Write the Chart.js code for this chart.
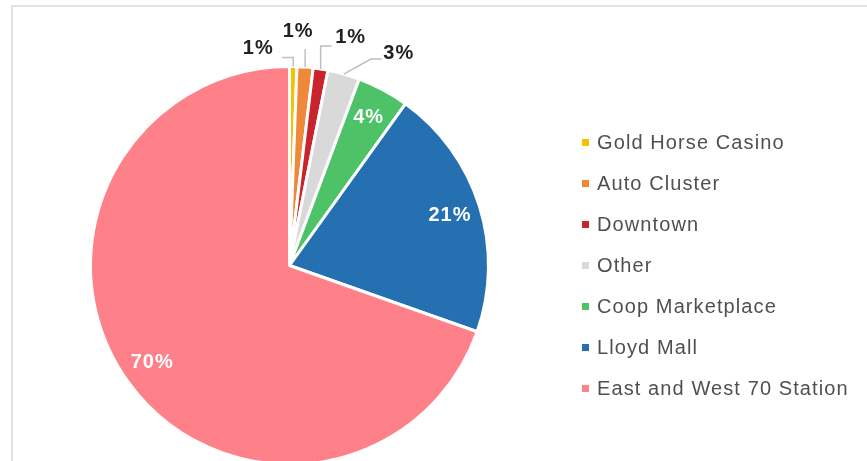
<!DOCTYPE html>
<html>
<head>
<meta charset="utf-8">
<script src="https://cdn.jsdelivr.net/npm/chart.js@4.4.1/dist/chart.umd.min.js"></script>
<style>
  html, body { margin: 0; padding: 0; width: 867px; height: 461px; overflow: hidden; background: #fff; }
  #frame { position: absolute; left: 11px; top: 5px; right: 0; bottom: 0; border-top: 2px solid #e2e2e2; border-left: 2px solid #e2e2e2; }
  #wrap { position: absolute; left: 0; top: 0; width: 867px; height: 500px; }
  #legend { position: absolute; left: 582px; top: 0; font-family: "Liberation Sans", Arial, sans-serif; font-size: 20px; letter-spacing: 1.1px; color: #505050; }
  #legend div { position: absolute; white-space: nowrap; display: flex; align-items: center; height: 24px; }
  #legend span.box { width: 7px; height: 7px; margin-right: 8px; flex: none; }
</style>
</head>
<body>
<div id="frame"></div>
<div id="wrap"><canvas id="pie"></canvas></div>
<div id="legend"></div>
<script>
// slice order runs clockwise from 12 o'clock
const regions = ["Gold Horse Casino", "Auto Cluster", "Downtown", "Other", "Coop Marketplace", "Lloyd Mall", "East and West 70 Station"];
const shares = [0.6, 1.3, 1.2, 2.6, 4.2, 20.5, 69.6];
const colors = ["#f5c100", "#f0883a", "#c9232c", "#d9d9d9", "#4dc267", "#2470b1", "#fe8189"];

// leader lines for the thin slices, relative to the slice's outer edge
const outside = {
  0: { path: [[0, -9], [-11, -9]], label: [-35, -18] },
  1: { path: [[0, -18]], label: [-7, -36] },
  2: { path: [[0, -23], [11, -23]], label: [30, -31] },
  3: { path: [[27, -15], [38, -15]], label: [55, -21] }
};

const sliceLabels = {
  id: "sliceLabels",
  afterDatasetsDraw(chart) {
    const ctx = chart.ctx;
    const total = shares.reduce((a, b) => a + b, 0);
    chart.getDatasetMeta(0).data.forEach((arc, i) => {
      const { x, y, startAngle, endAngle, outerRadius } = arc.getProps(["x", "y", "startAngle", "endAngle", "outerRadius"], true);
      const mid = (startAngle + endAngle) / 2;
      const text = Math.round(shares[i] / total * 100) + "%";
      ctx.save();
      ctx.font = 'bold 20px "Liberation Sans", Arial, sans-serif';
      ctx.letterSpacing = "1px";
      ctx.textAlign = "center";
      ctx.textBaseline = "middle";
      const o = outside[i];
      if (o) {
        const ex = x + Math.cos(mid) * outerRadius;
        const ey = y + Math.sin(mid) * outerRadius;
        ctx.strokeStyle = "#bfbfbf";
        ctx.lineWidth = 1.5;
        ctx.beginPath();
        ctx.moveTo(ex, ey);
        o.path.forEach(([dx, dy]) => ctx.lineTo(ex + dx, ey + dy));
        ctx.stroke();
        ctx.fillStyle = "#222222";
        ctx.fillText(text, ex + o.label[0], ey + o.label[1]);
      } else {
        const r = outerRadius * 0.845;
        ctx.fillStyle = "#ffffff";
        ctx.fillText(text, x + Math.cos(mid) * r, y + Math.sin(mid) * r);
      }
      ctx.restore();
    });
  }
};

const chart = new Chart(document.getElementById("pie"), {
  type: "pie",
  data: {
    labels: regions,
    datasets: [{
      data: shares,
      backgroundColor: colors,
      borderColor: "#ffffff",
      borderWidth: 3
    }]
  },
  options: {
    responsive: true,
    maintainAspectRatio: false,
    animation: false,
    layout: { padding: { left: 89, right: 377, top: 65, bottom: 34 } },
    plugins: {
      legend: { display: false },
      tooltip: { enabled: false }
    }
  },
  plugins: [sliceLabels]
});

// legend built from the chart's own data
const legendEl = document.getElementById("legend");
chart.data.labels.forEach((name, i) => {
  const row = document.createElement("div");
  row.style.top = (130 + i * 41) + "px";
  const box = document.createElement("span");
  box.className = "box";
  box.style.background = chart.data.datasets[0].backgroundColor[i];
  row.appendChild(box);
  row.appendChild(document.createTextNode(name));
  legendEl.appendChild(row);
});
</script>
</body>
</html>
